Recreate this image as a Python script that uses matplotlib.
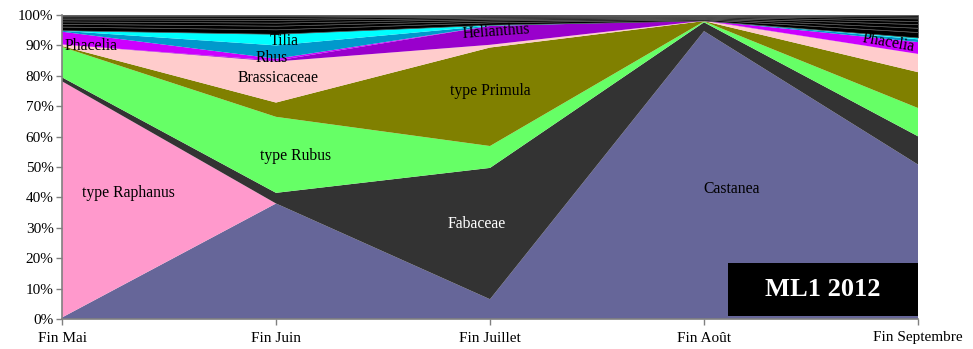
import matplotlib
matplotlib.use("Agg")
import matplotlib.pyplot as plt
import numpy as np

months = ["Fin Mai", "Fin Juin", "Fin Juillet", "Fin Août", "Fin Septembre"]

castanea     = [0.5, 38.0, 6.5, 94.7, 50.8]
raphanus     = [77.7, 0.0, 0.0, 0.0, 0.0]
fabaceae     = [1.3, 3.5, 43.2, 2.9, 9.3]
rubus        = [10.0, 25.0, 7.2, 0.3, 9.3]
primula      = [0.3, 4.7, 32.4, 0.1, 11.8]
brassicaceae = [0.5, 13.5, 0.9, 0.1, 6.0]
helianthus   = [0.0, 0.3, 6.2, 0.1, 0.0]
phacelia     = [4.2, 0.6, 0.0, 0.0, 3.9]
rhus         = [0.3, 4.4, 0.1, 0.0, 0.9]
tilia        = [0.2, 3.8, 0.3, 0.0, 0.6]
autres_1     = [1.2, 1.5, 0.8, 0.4, 1.8]
autres_2     = [0.9, 1.2, 0.6, 0.3, 1.4]
autres_3     = [0.8, 1.0, 0.5, 0.3, 1.2]
autres_4     = [0.7, 0.9, 0.4, 0.3, 1.0]
autres_5     = [0.6, 0.7, 0.4, 0.2, 0.9]
autres_6     = [0.5, 0.5, 0.3, 0.2, 0.6]
autres_7     = [0.3, 0.4, 0.2, 0.1, 0.5]

series = [castanea, raphanus, fabaceae, rubus, primula, brassicaceae,
          helianthus, phacelia, rhus, tilia,
          autres_1, autres_2, autres_3, autres_4, autres_5, autres_6, autres_7]
colors = ["#666699", "#FF99CC", "#333333", "#66FF66", "#808000", "#FFCCCC",
          "#9900CC", "#CC00FF", "#0099CC", "#00FFFF"] + ["#000000"] * 7

fig = plt.figure(figsize=(9.73, 3.49), dpi=100)
ax = fig.add_axes([62/973, 30/349, (918-62)/973, (319-15)/349])

x = np.arange(len(months))
arr = np.array(series, dtype=float)
tot = arr.sum(axis=0)
arr = arr / tot * 100
cum = np.zeros(len(months))
for i, (vals, c) in enumerate(zip(arr, colors)):
    if i >= 10:
        ax.fill_between(x, cum, cum + vals, facecolor=c, edgecolor="#5a5a5a", linewidth=0.5)
    else:
        ax.fill_between(x, cum, cum + vals, facecolor=c, edgecolor="none", linewidth=0)
    cum = cum + vals

ax.set_xlim(0, 4)
ax.set_ylim(0, 100)
ax.set_yticks(np.arange(0, 101, 10))
ax.set_yticklabels([f"{v}%" for v in range(0, 101, 10)])
ax.set_xticks(x)
ax.set_xticklabels(months)
for s in ["top", "right"]:
    ax.spines[s].set_visible(False)
for s in ["left", "bottom"]:
    ax.spines[s].set_color("#808080")
    ax.spines[s].set_linewidth(1.2)
ax.tick_params(axis="both", colors="#808080", length=4, width=1, labelcolor="black",
               labelsize=11)
for lab in ax.get_xticklabels() + ax.get_yticklabels():
    lab.set_fontfamily("Liberation Serif")
ax.tick_params(axis="x", pad=5)
ax.tick_params(axis="y", pad=2)

serif = "Liberation Serif"
fs = 11.3
ax.text(0.01, 89.8, "Phacelia", fontsize=fs, family=serif, ha="left", va="center")
ax.text(1.04, 91.6, "Tilia", fontsize=fs, family=serif, ha="center", va="center")
ax.text(0.98, 86.0, "Rhus", fontsize=fs, family=serif, ha="center", va="center")
ax.text(1.01, 79.2, "Brassicaceae", fontsize=fs, family=serif, ha="center", va="center")
ax.text(2.03, 94.5, "Helianthus", fontsize=fs, family=serif, ha="center", va="center", rotation=4)
ax.text(2.0, 74.9, "type Primula", fontsize=fs, family=serif, ha="center", va="center")
ax.text(1.09, 53.5, "type Rubus", fontsize=fs, family=serif, ha="center", va="center")
ax.text(0.31, 41.3, "type Raphanus", fontsize=fs, family=serif, ha="center", va="center")
ax.text(1.94, 31.4, "Fabaceae", fontsize=fs, family=serif, ha="center", va="center", color="white")
ax.text(3.13, 42.6, "Castanea", fontsize=fs, family=serif, ha="center", va="center")
ax.text(3.86, 91.0, "Phacelia", fontsize=fs, family=serif, ha="center", va="center", rotation=-10)

# ML1 2012 box
x0 = (728-62)/214
x1 = (918-62)/214
y0 = (319-316)/3.03
y1 = (319-263)/3.03
ax.fill_between([x0, x1], [y0, y0], [y1, y1], facecolor="black", edgecolor="none", zorder=5)
ax.text((x0+x1)/2, (y0+y1)/2, "ML1 2012", fontsize=19, family=serif, fontweight="bold",
        color="white", ha="center", va="center", zorder=6)

fig.savefig("out.png", dpi=100)
